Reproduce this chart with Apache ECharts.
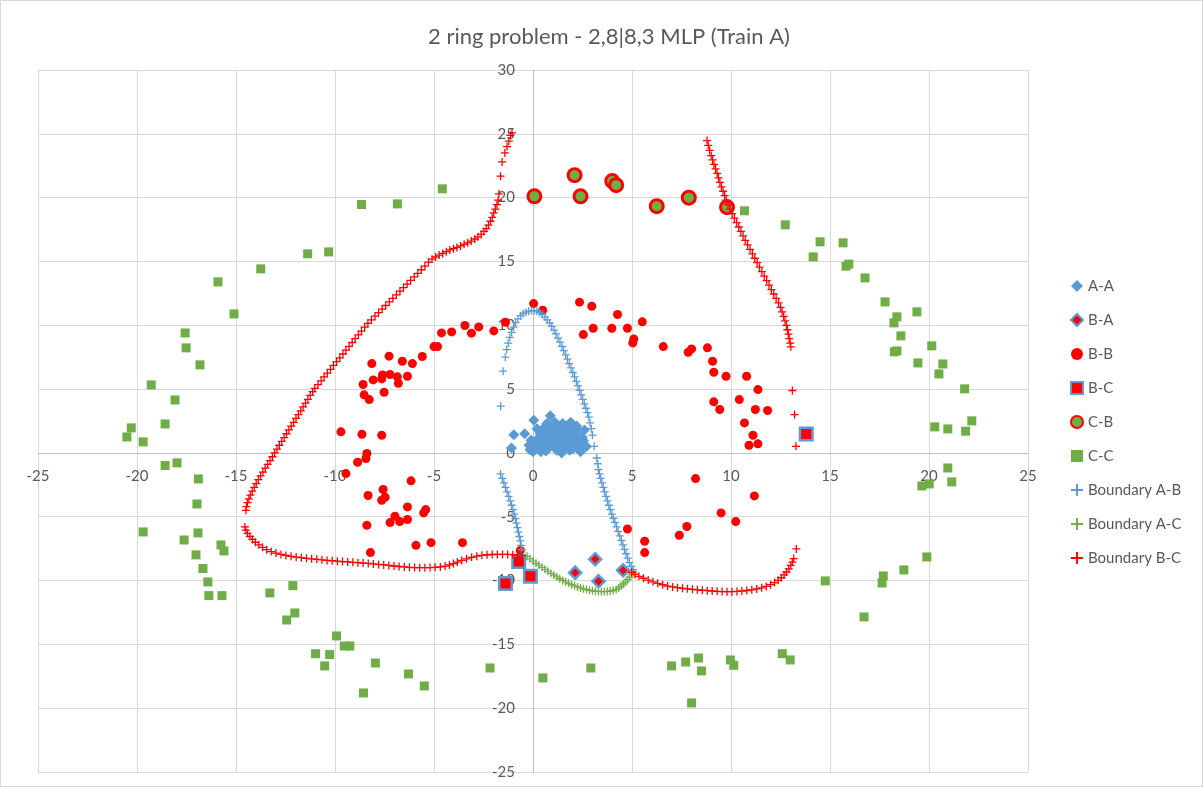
<!DOCTYPE html>
<html>
<head>
<meta charset="utf-8">
<script src="https://cdn.jsdelivr.net/npm/echarts@6/dist/echarts.min.js"></script>
<style>
html,body{margin:0;padding:0;background:#fff;}
#wrap{width:1201px;height:785px;border:1px solid #D9D9D9;}
#chart{width:1201px;height:785px;}
</style>
</head>
<body>
<div id="wrap"><div id="chart"></div></div>
<script>
const chartTitle = '2 ring problem - 2,8|8,3 MLP (Train A)';
const seriesNames = ['A-A','B-A','B-B','B-C','C-B','C-C','Boundary A-B','Boundary A-C','Boundary B-C'];

const dataAA = [[-0.97,1.43],[-0.42,1.51],[0.04,2.56],[0.87,2.92],[-0.2,0.6],[0.1,0.3],[0.3,1.2],[0.5,0.8],[0.6,1.8],[0.8,0.4],[0.9,1.4],[1.0,2.0],[1.1,0.9],[1.2,0.2],[1.3,1.6],[1.4,1.1],[1.5,2.3],[1.6,0.6],[1.7,1.3],[1.8,1.9],[1.9,0.9],[2.0,0.3],[2.1,1.5],[2.2,2.1],[2.3,0.7],[2.5,1.2],[2.6,1.8],[0.4,0.1],[0.7,2.3],[1.1,2.4],[1.45,0.0],[1.9,2.4],[0.2,1.9],[-0.1,1.0],[2.4,0.1],[1.6,1.7],[0.95,1.05],[1.25,0.55],[2.7,0.5],[-1.09,0.39],
[0.0,0.1],[0.2,0.7],[0.35,1.55],[0.45,0.45],[0.55,1.25],[0.65,0.15],[0.75,0.95],[0.85,1.75],[1.0,0.6],[1.05,1.3],[1.15,1.95],[1.3,0.85],[1.35,2.1],[1.5,0.35],[1.55,1.4],[1.65,2.0],[1.75,0.95],[1.85,0.2],[1.95,1.6],[2.05,0.75],[2.15,1.15],[2.3,1.75],[2.45,0.45],[2.55,0.95],[1.2,1.5],[0.8,1.2],[1.7,1.7],[2.0,1.2],[-0.15,0.25],[0.6,2.05]];

const dataBA = [[2.13,-9.38],[3.14,-8.33],[3.31,-10.06],[4.55,-9.2]];

const dataBB = [[-8.14,7.0],[-7.27,7.58],[-6.6,7.18],[-6.09,7.0],[-5.59,7.55],[-8.58,5.36],[-8.07,5.72],[-7.6,6.11],[-7.64,5.8],[-7.22,6.14],[-6.85,5.96],[-6.8,5.46],[-6.34,6.01],[-8.53,4.55],[-8.27,4.18],[-7.52,4.75],[-5.0,8.33],[-4.82,8.33],[-4.62,9.4],[-4.11,9.48],[-3.44,9.98],[-3.11,9.38],[-2.74,9.87],[-1.98,9.56],[-1.39,10.24],[0.03,11.7],[-9.7,1.65],[-8.64,1.46],[-7.64,1.38],
[-8.39,-0.05],[-8.44,-0.44],[-8.86,-0.73],[-9.45,-1.62],[-6.16,-2.19],[-8.33,-3.34],[-7.57,-2.87],[-7.64,-3.71],[-7.47,-3.47],[-6.34,-4.23],[-5.42,-4.44],[-5.52,-4.7],[-6.97,-4.96],[-7.22,-5.46],[-6.73,-5.38],[-6.34,-5.22],[-8.39,-5.67],[-5.91,-7.24],[-5.15,-7.03],[-3.56,-7.03],[-8.21,-7.81],[-0.64,-7.65],
[0.49,11.18],[2.35,11.81],[2.97,11.49],[4.27,10.84],[2.54,9.27],[3.04,9.77],[3.98,9.77],[4.77,9.77],[5.52,10.27],[5.09,8.93],[5.04,8.62],[6.58,8.33],[7.84,7.89],[8.01,8.15],[8.81,8.23],[9.07,7.18],[9.13,6.32],[9.75,6.01],[10.79,6.01],[11.36,4.96],[9.13,4.0],[9.43,3.4],[10.42,4.18],[11.23,3.4],[11.85,3.32],[10.68,2.35],[11.11,1.38],[10.91,0.6],[11.36,0.71],
[8.21,-2.01],[11.18,-3.37],[9.5,-4.7],[10.24,-5.38],[4.77,-5.96],[7.77,-5.77],[7.39,-6.45],[5.64,-6.92],[5.64,-7.81]];

const dataBC = [[-1.39,-10.24],[-0.72,-8.5],[-0.13,-9.67],[13.8,1.49]];

const dataCB = [[0.07,20.1],[2.1,21.76],[2.4,20.1],[4.0,21.3],[4.2,20.98],[6.25,19.33],[7.87,20.0],[9.8,19.25]];

const dataCC = [[-4.58,20.69],[-8.66,19.46],[-6.85,19.51],[-11.38,15.6],[-10.32,15.75],[-13.75,14.42],[-15.91,13.4],[-15.1,10.89],[-17.57,9.4],[-17.52,8.23],[-16.82,6.9],[-19.28,5.33],[-18.08,4.15],[-18.58,2.27],[-20.29,1.96],[-20.51,1.25],[-19.69,0.86],
[-18.58,-0.99],[-17.98,-0.78],[-16.9,-2.04],[-16.97,-4.0],[-19.69,-6.19],[-17.62,-6.82],[-16.92,-6.27],[-17.02,-7.99],[-15.76,-7.21],[-15.61,-7.68],[-16.67,-9.06],[-16.42,-10.11],[-16.37,-11.18],[-15.71,-11.18],[-13.29,-10.97],[-12.13,-10.4],[-12.03,-12.54],[-12.44,-13.09],[-9.92,-14.34],[-9.53,-15.13],[-9.25,-15.13],[-10.98,-15.73],[-10.27,-15.8],[-10.52,-16.69],[-7.96,-16.46],[-6.29,-17.32],[-5.49,-18.26],[-8.56,-18.81],[-2.17,-16.85],
[0.5,-17.63],[2.92,-16.85],[7.0,-16.69],[7.71,-16.38],[8.36,-16.07],[8.51,-17.08],[8.01,-19.59],[9.97,-16.22],[10.14,-16.64],[12.59,-15.73],[12.99,-16.22],[14.76,-10.03],[16.72,-12.85],[17.63,-10.19],[17.69,-9.64],[18.73,-9.17],[19.89,-8.15],[19.64,-2.59],[20.01,-2.43],[20.95,-1.18],[21.15,-2.27],
[10.68,18.97],[12.74,17.87],[14.5,16.54],[15.66,16.46],[14.15,15.36],[15.95,14.79],[15.81,14.63],[16.77,13.71],[17.78,11.83],[19.39,11.05],[18.38,10.66],[18.23,10.19],[18.58,9.17],[20.14,8.39],[18.25,7.92],[18.38,7.99],[19.44,7.05],[20.7,6.97],[20.5,6.19],[21.8,5.02],[22.16,2.51],[20.29,2.04],[20.95,1.88],[21.85,1.7]];

const boundaryAB = [[-1.63,3.66],[-1.51,6.4],[-1.4,7.5],[-1.33,8.1],[-1.25,8.6],[-1.17,9.05],[-1.08,9.45],[-0.98,9.85],[-0.88,10.2],[-0.76,10.5],[-0.63,10.75],[-0.5,10.92],[-0.36,11.03],[-0.22,11.1],[-0.08,11.14],[0.06,11.14],[0.2,11.1],[0.34,11.0],[0.47,10.85],[0.6,10.66],[0.72,10.43],[0.84,10.18],[0.95,9.92],[1.06,9.62],[1.16,9.32],[1.26,9.0],[1.36,8.68],[1.46,8.35],[1.55,8.02],[1.65,7.68],[1.74,7.34],[1.83,7.0],[1.92,6.66],[2.01,6.3],[2.1,5.95],[2.19,5.6],[2.27,5.25],[2.35,4.9],[2.43,4.55],[2.51,4.2],[2.59,3.85],[2.67,3.5],[2.75,3.15],[2.82,2.8],[2.88,2.35],[2.95,1.9],[3.0,1.4],[3.09,0.52],[3.22,-0.4],[3.27,-0.85],[3.31,-1.31],[3.36,-1.65],[3.42,-2.0],[3.48,-2.35],[3.55,-2.7],[3.62,-3.05],[3.69,-3.4],[3.76,-3.75],[3.83,-4.1],[3.9,-4.45],[3.98,-4.8],[4.06,-5.12],[4.14,-5.45],[4.22,-5.8],[4.3,-6.15],[4.38,-6.5],[4.46,-6.85],[4.54,-7.2],[4.62,-7.55],[4.7,-7.9],[4.78,-8.25],[4.87,-8.6],[4.96,-8.9],[5.05,-9.15],
[-1.64,-1.65],[-1.55,-2.0],[-1.47,-2.35],[-1.39,-2.7],[-1.31,-3.05],[-1.23,-3.4],[-1.15,-3.75],[-1.08,-4.1],[-1.01,-4.45],[-0.95,-4.8],[-0.89,-5.15],[-0.84,-5.5],[-0.79,-5.85],[-0.74,-6.2],[-0.69,-6.55],[-0.64,-6.9],[-0.6,-7.25],[-0.56,-7.6]];

const boundaryAC = [[-0.3,-8.1],[-0.15,-8.3],[0.0,-8.48],[0.15,-8.65],[0.3,-8.8],[0.45,-8.96],[0.6,-9.12],[0.75,-9.28],[0.9,-9.43],[1.05,-9.58],[1.2,-9.72],[1.35,-9.86],[1.5,-9.99],[1.65,-10.11],[1.8,-10.22],[1.95,-10.32],[2.1,-10.41],[2.25,-10.5],[2.4,-10.58],[2.55,-10.65],[2.7,-10.71],[2.85,-10.76],[3.0,-10.8],[3.15,-10.83],[3.3,-10.85],[3.45,-10.86],[3.6,-10.86],[3.75,-10.85],[3.9,-10.82],[4.05,-10.78],[4.2,-10.7],[4.33,-10.58],[4.45,-10.43],[4.57,-10.27],[4.68,-10.1],[4.78,-9.92],[4.88,-9.73],[4.98,-9.52],[5.07,-9.35]];

const boundaryBC = [[-14.5,-4.5],[-14.47,-4.2],[-14.42,-3.9],[-14.35,-3.6],[-14.27,-3.3],[-14.18,-3.0],[-14.08,-2.7],[-13.98,-2.4],[-13.87,-2.1],[-13.76,-1.8],[-13.64,-1.5],[-13.52,-1.2],[-13.4,-0.9],[-13.28,-0.6],[-13.16,-0.3],[-13.05,0.0],
[-12.93,0.3],[-12.81,0.6],[-12.69,0.9],[-12.57,1.2],[-12.45,1.5],[-12.33,1.8],[-12.21,2.1],[-12.09,2.4],[-11.97,2.7],[-11.85,3.0],[-11.73,3.3],[-11.61,3.6],[-11.49,3.9],[-11.37,4.2],[-11.25,4.5],[-11.13,4.8],[-11.02,5.05],
[-10.86,5.35],[-10.7,5.65],[-10.55,5.95],[-10.39,6.25],[-10.23,6.55],[-10.08,6.85],[-9.92,7.15],[-9.76,7.45],[-9.6,7.75],[-9.45,8.05],[-9.29,8.35],[-9.13,8.65],[-8.98,8.95],[-8.82,9.25],[-8.66,9.55],[-8.5,9.85],
[-8.34,10.15],[-8.16,10.43],[-7.98,10.71],[-7.8,10.99],[-7.62,11.27],[-7.44,11.55],[-7.26,11.83],[-7.08,12.11],[-6.9,12.39],[-6.72,12.67],[-6.54,12.95],[-6.36,13.23],[-6.18,13.51],[-6.0,13.79],[-5.82,14.07],[-5.64,14.35],[-5.46,14.63],[-5.28,14.95],
[-5.1,15.18],[-4.92,15.35],[-4.74,15.5],[-4.56,15.63],[-4.38,15.77],[-4.2,15.9],[-4.02,16.0],[-3.84,16.1],[-3.66,16.22],[-3.48,16.34],[-3.3,16.46],[-3.12,16.6],[-2.94,16.76],[-2.78,16.93],[-2.62,17.12],[-2.48,17.35],[-2.36,17.58],[-2.25,17.85],[-2.15,18.15],[-2.06,18.45],[-1.98,18.8],[-1.9,19.1],[-1.82,19.45],[-1.76,19.8],[-1.72,20.3],
[-1.64,21.68],[-1.56,22.8],[-1.42,23.5],[-1.31,24.0],[-1.22,24.42],[-1.14,24.87],[-1.06,25.08],
[-14.55,-5.8],[-14.5,-6.05],[-14.42,-6.3],[-14.3,-6.55],[-14.17,-6.78],[-14.02,-7.0],[-13.85,-7.2],[-13.66,-7.4],[-13.45,-7.58],[-13.22,-7.73],[-12.98,-7.85],[-12.73,-7.95],[-12.48,-8.03],[-12.22,-8.1],[-11.96,-8.16],[-11.7,-8.21],[-11.44,-8.26],[-11.18,-8.3],[-10.92,-8.34],[-10.66,-8.38],[-10.4,-8.42],[-10.14,-8.45],[-9.88,-8.48],[-9.62,-8.51],[-9.36,-8.54],[-9.1,-8.57],[-8.84,-8.6],[-8.58,-8.63],[-8.32,-8.66],[-8.06,-8.7],[-7.8,-8.74],[-7.54,-8.78],[-7.28,-8.82],[-7.02,-8.86],[-6.76,-8.9],[-6.5,-8.93],[-6.24,-8.96],[-5.98,-8.98],[-5.72,-8.99],[-5.46,-8.99],[-5.2,-8.98],[-4.94,-8.96],[-4.68,-8.93],[-4.44,-8.87],[-4.22,-8.78],[-4.02,-8.67],[-3.82,-8.55],[-3.6,-8.42],[-3.36,-8.3],[-3.1,-8.18],[-2.84,-8.09],[-2.58,-8.02],[-2.32,-7.98],[-2.06,-7.96],[-1.8,-7.95],[-1.54,-7.95],[-1.28,-7.95],[-1.02,-7.97],[-0.78,-8.0],[-0.55,-8.05],
[4.98,-9.35],[5.15,-9.52],[5.35,-9.67],[5.58,-9.82],[5.82,-9.96],[6.06,-10.1],[6.3,-10.22],[6.55,-10.33],[6.8,-10.43],[7.05,-10.5],[7.3,-10.56],[7.55,-10.61],[7.8,-10.65],[8.05,-10.69],[8.3,-10.73],[8.55,-10.76],[8.8,-10.79],[9.05,-10.82],[9.3,-10.84],[9.55,-10.86],[9.8,-10.87],[10.05,-10.87],[10.3,-10.85],[10.55,-10.82],[10.8,-10.78],[11.05,-10.73],[11.3,-10.66],[11.55,-10.57],[11.78,-10.46],[12.0,-10.32],[12.2,-10.16],[12.38,-9.98],[12.54,-9.78],[12.68,-9.56],[12.8,-9.33],[12.92,-9.08],[13.02,-8.82],[13.1,-8.55],[13.17,-8.28],[13.3,-7.52],
[8.79,24.47],[8.85,24.1],[8.92,23.7],[9.0,23.3],[9.07,22.95],[9.14,22.6],[9.22,22.25],[9.3,21.9],[9.37,21.55],[9.44,21.2],[9.52,20.85],[9.6,20.5],[9.68,20.15],[9.76,19.8],[9.85,19.45],[9.95,19.1],[10.06,18.75],[10.17,18.4],[10.28,18.05],[10.39,17.7],[10.5,17.35],[10.61,17.0],[10.72,16.65],[10.84,16.3],[10.96,15.95],[11.08,15.6],[11.2,15.25],[11.32,14.9],[11.44,14.55],[11.56,14.2],[11.68,13.85],[11.8,13.5],[11.92,13.15],[12.04,12.8],[12.16,12.45],[12.28,12.1],[12.4,11.75],[12.5,11.4],[12.58,11.05],[12.66,10.7],[12.73,10.35],[12.8,10.0],[12.85,9.65],[12.9,9.3],[12.94,8.95],[12.99,8.6],[13.02,8.31],
[13.1,4.89],[13.21,3.0],[13.28,0.52]];

const BLUE = '#5B9BD5', RED = '#FF0000', GREEN = '#70AD47', TXT = '#595959';
const PLUS = 'path://M4.2 0H5.8V4.2H10V5.8H5.8V10H4.2V5.8H0V4.2H4.2Z';
const FONT = 'Lato, "Open Sans", sans-serif';

const GRID = {left: 37, right: 174, top: 69, bottom: 14};
const CW = 1201, CH = 785;
const X_MIN = -25, X_MAX = 25, Y_MIN = -25, Y_MAX = 30;
const plotW = CW - GRID.left - GRID.right, plotH = CH - GRID.top - GRID.bottom;
// shift axes so they sit on the zero lines
const yAxisOffset = -plotW * (0 - X_MIN) / (X_MAX - X_MIN);
const xAxisOffset = -plotH * (0 - Y_MIN) / (Y_MAX - Y_MIN);

const chart = echarts.init(document.getElementById('chart'));
chart.setOption({
  animation: false,
  title: {
    text: chartTitle, left: 422, top: 20,
    textStyle: {fontFamily: FONT, fontSize: 22, fontWeight: 'normal', color: TXT}
  },
  legend: {
    orient: 'vertical', left: 1064, top: 272,
    itemWidth: 12, itemHeight: 12, itemGap: 18,
    textStyle: {fontFamily: FONT, fontSize: 15, color: TXT, lineHeight: 16},
    data: seriesNames
  },
  grid: Object.assign({containLabel: false}, GRID),
  xAxis: {
    type: 'value', min: X_MIN, max: X_MAX, interval: 5, position: 'bottom', offset: xAxisOffset,
    axisLine: {show: true, onZero: false, lineStyle: {color: '#BFBFBF'}},
    axisTick: {show: false},
    axisLabel: {fontFamily: FONT, fontSize: 15, color: TXT, margin: 16},
    splitLine: {lineStyle: {color: '#D9D9D9'}}
  },
  yAxis: {
    type: 'value', min: Y_MIN, max: Y_MAX, interval: 5, position: 'left', offset: yAxisOffset,
    axisLine: {show: true, onZero: false, lineStyle: {color: '#BFBFBF'}},
    axisTick: {show: false},
    axisLabel: {fontFamily: FONT, fontSize: 15, color: TXT, margin: 18},
    splitLine: {lineStyle: {color: '#D9D9D9'}}
  },
  series: [
    {name: 'A-A', type: 'scatter', data: dataAA, symbol: 'diamond', symbolSize: 11, itemStyle: {color: BLUE, opacity: 1}},
    {name: 'B-A', type: 'scatter', data: dataBA, symbol: 'diamond', symbolSize: 12, itemStyle: {color: RED, borderColor: BLUE, borderWidth: 2.5, opacity: 1}},
    {name: 'B-B', type: 'scatter', data: dataBB, symbol: 'circle', symbolSize: 9, itemStyle: {color: RED, opacity: 1}},
    {name: 'B-C', type: 'scatter', data: dataBC, symbol: 'rect', symbolSize: 12.5, itemStyle: {color: RED, borderColor: BLUE, borderWidth: 2.5, opacity: 1}},
    {name: 'C-B', type: 'scatter', data: dataCB, symbol: 'circle', symbolSize: 13, itemStyle: {color: GREEN, borderColor: RED, borderWidth: 3, opacity: 1}},
    {name: 'C-C', type: 'scatter', data: dataCC, symbol: 'rect', symbolSize: 9, itemStyle: {color: GREEN, opacity: 1}},
    {name: 'Boundary A-B', type: 'scatter', data: boundaryAB, symbol: PLUS, symbolSize: 8, itemStyle: {color: BLUE, opacity: 1}},
    {name: 'Boundary A-C', type: 'scatter', data: boundaryAC, symbol: PLUS, symbolSize: 8, itemStyle: {color: GREEN, opacity: 1}},
    {name: 'Boundary B-C', type: 'scatter', data: boundaryBC, symbol: PLUS, symbolSize: 8, itemStyle: {color: RED, opacity: 1}}
  ]
});
</script>
</body>
</html>
